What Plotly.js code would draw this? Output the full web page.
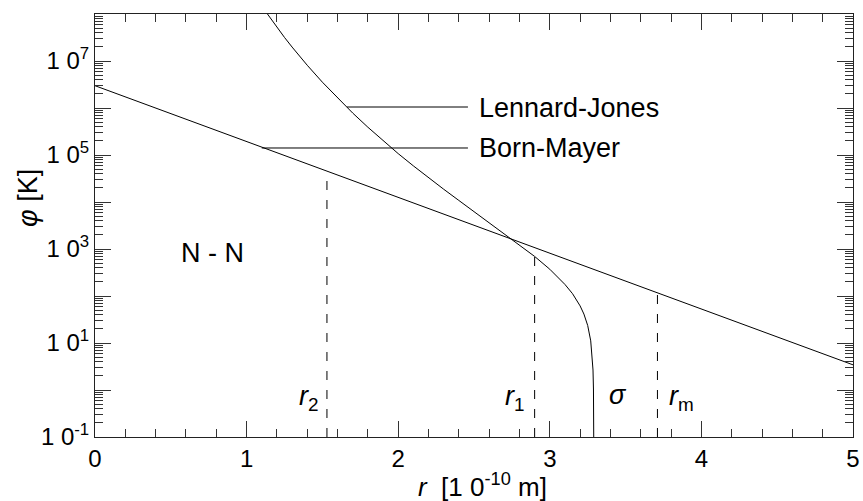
<!DOCTYPE html>
<html>
<head>
<meta charset="utf-8">
<script src="https://cdn.plot.ly/plotly-3.0.1.min.js"></script>
<style>html,body{margin:0;padding:0;background:#fff;}#chart{width:863px;height:501px;}</style>
</head>
<body>
<div id="chart"></div>
<script>
// Lennard-Jones potential: r [1e-10 m], phi [K]
var ljR   = [1.10, 1.15, 1.20, 1.25, 1.30, 1.40, 1.50, 1.60, 1.70, 1.80, 1.90, 2.00, 2.10, 2.20, 2.30, 2.40, 2.50, 2.60, 2.70, 2.75, 2.80, 2.90, 3.00, 3.05, 3.10, 3.15, 3.20, 3.225, 3.25, 3.27, 3.28, 3.285, 3.288, 3.2895, 3.2898];
var ljPhi = [1.47e8, 8.64e7, 5.18e7, 3.17e7, 1.98e7, 8.12e6, 3.54e6, 1.62e6, 7.80e5, 3.90e5, 2.02e5, 1.07e5, 5.87e4, 3.28e4, 1.87e4, 1.08e4, 6275, 3673, 2143, 1632, 1237, 695, 371, 261, 176, 112, 61.5, 41.3, 23.6, 11.1, 5.4, 2.66, 1.05, 0.26, 0.1];
// Born-Mayer potential
var bmR   = [0, 1, 2, 3, 4, 5];
var bmPhi = [2.98e6, 1.94e5, 1.26e4, 818, 53, 3.43];
// marked distances (dashed lines) and the curve value they reach
var markR   = [1.53, 2.90, 3.71];
var markTop = [4.5e4, 695, 119];
var markBottom = 0.1;
// leader lines to the curve labels
var ljLeaderR = [1.662, 2.46];
var ljLeaderPhi = [1.05e6, 1.05e6];
var bmLeaderR = [1.10, 2.46];
var bmLeaderPhi = [1.41e5, 1.41e5];
// tick labels
var xTickVals = [0, 1, 2, 3, 4, 5];
var xTickText = ['0', '1', '2', '3', '4', '5'];
var yTickVals = [0.1, 10, 1e3, 1e5, 1e7];
var yTickText = ['1 0<sup>-1</sup>', '1 0<sup>1</sup>', '1 0<sup>3</sup>', '1 0<sup>5</sup>', '1 0<sup>7</sup>'];
var yUnlabelledMajor = [1, 100, 1e4, 1e6, 1e8];

var yMinor = [];
for (var n = -1; n < 8; n++) { for (var k = 2; k <= 9; k++) { yMinor.push(k * Math.pow(10, n)); } }

var lineStyle = {color: '#000', width: 1};
var traces = [
  {x: ljR, y: ljPhi, mode: 'lines', line: lineStyle},
  {x: bmR, y: bmPhi, mode: 'lines', line: lineStyle},
  {x: ljLeaderR, y: ljLeaderPhi, mode: 'lines', line: lineStyle},
  {x: bmLeaderR, y: bmLeaderPhi, mode: 'lines', line: lineStyle}
];
for (var i = 0; i < markR.length; i++) {
  traces.push({x: [markR[i], markR[i]], y: [markBottom, markTop[i]], mode: 'lines',
    line: {color: '#000', width: 1, dash: '9px,10px'}});
}
// carrier for the overlay axis that draws the unlabelled decade ticks
traces.push({x: bmR, y: bmPhi, yaxis: 'y2', mode: 'lines', line: {color: 'rgba(0,0,0,0)', width: 0}, hoverinfo: 'skip'});

var FONT = 'Liberation Sans, Arial, Helvetica, sans-serif';
var X0 = 95, X1 = 853, Y0 = 14, Y1 = 437;
function px(x) { return (x - X0) / (X1 - X0); }
function py(y) { return (Y1 - y) / (Y1 - Y0); }

var annFont = {family: FONT, size: 27, color: '#000'};
var annotations = [
  {text: 'Lennard-Jones', x: px(477), y: py(108), xanchor: 'left', yanchor: 'middle'},
  {text: 'Born-Mayer', x: px(477), y: py(148), xanchor: 'left', yanchor: 'middle'},
  {text: 'N - N', x: px(212), y: py(253), xanchor: 'center', yanchor: 'middle'},
  {text: '<i>σ</i>', x: px(618), y: py(395), xanchor: 'center', yanchor: 'middle'},
  {text: '<i>r</i><sub>2</sub>', x: px(321), y: py(398), xanchor: 'right', yanchor: 'middle'},
  {text: '<i>r</i><sub>1</sub>', x: px(527), y: py(398), xanchor: 'right', yanchor: 'middle'},
  {text: '<i>r</i><sub>m</sub>', x: px(667), y: py(398), xanchor: 'left', yanchor: 'middle'},
  {text: '<i>r</i>  [1 0<sup>-10</sup> m]', x: px(482), y: py(485), xanchor: 'center', yanchor: 'middle', font: {family: FONT, size: 26, color: '#000'}},
  {text: '<i>φ</i> [K]', x: px(28), y: py(198), xanchor: 'center', yanchor: 'middle', textangle: -90}
].map(function (a) { a.xref = 'paper'; a.yref = 'paper'; a.showarrow = false; if (!a.font) a.font = annFont; return a; });

var axisCommon = {
  showgrid: false, zeroline: false, showline: true, linecolor: '#222', linewidth: 1,
  ticks: 'inside', ticklen: 16, tickwidth: 1, tickcolor: '#333', mirror: 'ticks',
  tickfont: {family: FONT, size: 24, color: '#000'}
};

var layout = {
  width: 863, height: 501,
  margin: {l: 95, r: 10, t: 14, b: 64},
  paper_bgcolor: '#fff', plot_bgcolor: '#fff',
  showlegend: false,
  xaxis: Object.assign({}, axisCommon, {
    range: [0, 5], tickmode: 'array', tickvals: xTickVals, ticktext: xTickText,
    minor: {dtick: 0.2, tick0: 0, ticks: 'inside', ticklen: 8, tickwidth: 1, tickcolor: '#333'}
  }),
  yaxis: Object.assign({}, axisCommon, {
    type: 'log', range: [-1, 8], tickmode: 'array', tickvals: yTickVals, ticktext: yTickText,
    minor: {tickmode: 'array', tickvals: yMinor, ticks: 'inside', ticklen: 8, tickwidth: 1, tickcolor: '#333'}
  }),
  yaxis2: {
    overlaying: 'y', side: 'left', type: 'log', range: [-1, 8], tickmode: 'array', tickvals: yUnlabelledMajor,
    showticklabels: false, ticks: 'inside', ticklen: 16, tickwidth: 1, tickcolor: '#333', mirror: 'ticks',
    showline: true, linecolor: '#222', linewidth: 1, showgrid: false, zeroline: false
  },
  annotations: annotations
};

Plotly.newPlot('chart', traces, layout, {displayModeBar: false, staticPlot: true});
</script>
</body>
</html>
